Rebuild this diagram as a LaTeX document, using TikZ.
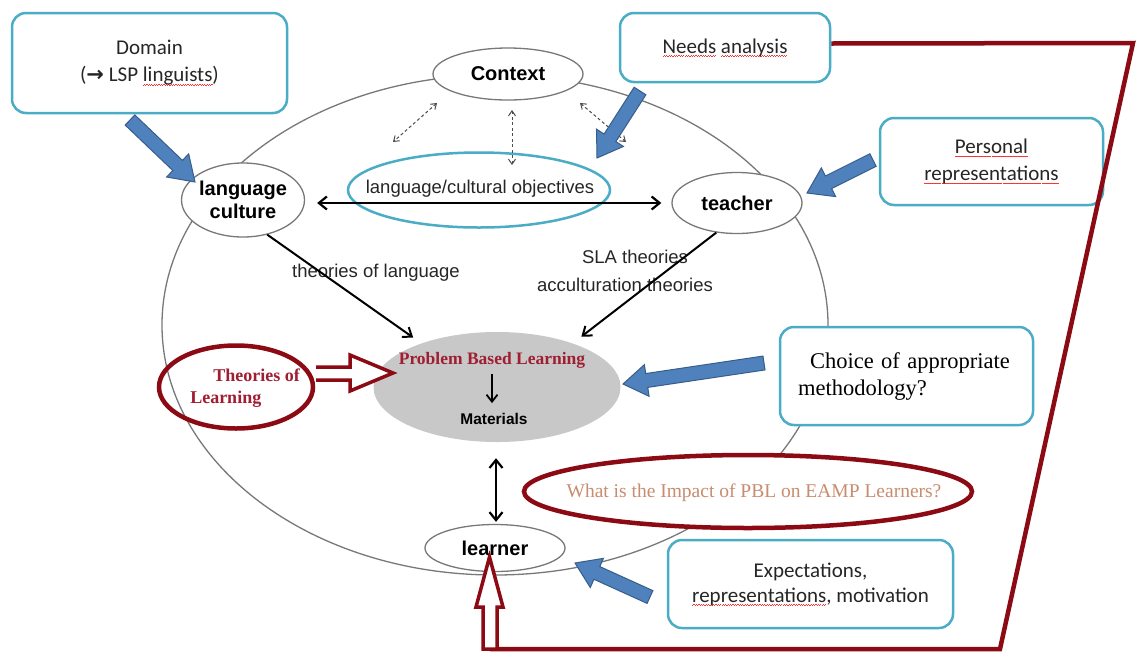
\documentclass[tikz,border=0pt]{standalone}
\usepackage{fontspec}
\usetikzlibrary{shapes.geometric,arrows.meta,calc}
\newfontfamily\arialf{Liberation Sans}
\newfontfamily\calib{Carlito}
\newfontfamily\tnr{Liberation Serif}
\newfontfamily\dejavu{DejaVu Sans}
\definecolor{cyanb}{RGB}{75,172,198}
\definecolor{blueF}{RGB}{79,129,189}
\definecolor{blueD}{RGB}{56,93,138}
\definecolor{dred}{RGB}{140,10,20}
\definecolor{pblred}{RGB}{160,30,50}
\definecolor{tancol}{RGB}{200,140,110}
\definecolor{grayl}{RGB}{120,120,120}
\definecolor{pblgray}{RGB}{200,200,200}
\newcommand\spell[1]{\setbox0\hbox{#1}\rlap{\raisebox{-3.5pt}{\textcolor{red!80}{\hbox to \wd0{\xleaders\hbox{\rule{1.2pt}{0.6pt}\rule[0.7pt]{1.2pt}{0.6pt}}\hfill}}}}\box0\relax}
\newcommand\blockarrow[2]{%
  \path[blockarr] ($(#1)!7pt!90:(#2)$)
    -- ($($(#2)!24pt!(#1)$)!7pt!90:(#2)$)
    -- ($($(#2)!24pt!(#1)$)!16pt!90:(#2)$)
    -- (#2)
    -- ($($(#2)!24pt!(#1)$)!16pt!-90:(#2)$)
    -- ($($(#2)!24pt!(#1)$)!7pt!-90:(#2)$)
    -- ($(#1)!7pt!-90:(#2)$) -- cycle;}
\begin{document}
\begin{tikzpicture}[x=1pt,y=-1pt,
  oval/.style={ellipse, draw=grayl, line width=1.3pt, fill=white, inner sep=0pt},
  nodetxt/.style={font=\arialf\bfseries\fontsize{20}{23}\selectfont, align=center},
  plaintxt/.style={font=\arialf\fontsize{18.5}{22}\selectfont, text=black!85, inner sep=0pt},
  cbox/.style={draw=cyanb, line width=2.5pt, rounded corners=14pt, fill=white, inner sep=0pt,
    align=center, font=\calib\fontsize{21}{27}\selectfont, text=black!85},
  redoval/.style={ellipse, draw=dred, line width=4.5pt, inner sep=0pt},
  blk/.style={draw=black, line width=2.2pt,
    {Straight Barb[length=8pt,width=13pt]}-{Straight Barb[length=8pt,width=13pt]}},
  thk/.style={draw=black, line width=2pt, -{Straight Barb[length=8pt,width=12pt]}},
  dsh/.style={draw=black!70, line width=1pt, dash pattern=on 3pt off 2.5pt,
    {Straight Barb[length=5pt,width=7pt]}-{Straight Barb[length=5pt,width=7pt]}},
  hol/.style={draw=dred, line width=3.5pt, fill=white, line join=miter},
  blockarr/.style={fill=blueF, draw=blueD, line width=1pt, line join=miter}]
\useasboundingbox (0,0) rectangle (1138,654);
\fill[white] (0,0) rectangle (1138,654);

% big ellipse
\draw[draw=grayl, line width=1.3pt] (495,325) ellipse [x radius=333pt, y radius=250pt];

% main nodes
\node[oval, nodetxt, minimum width=150pt, minimum height=52pt] (ctx) at (508,74) {Context};
\node[oval, nodetxt, inner xsep=-4pt, minimum width=123pt, minimum height=74pt] (lc) at (243,200) {language\\culture};
\node[oval, nodetxt, minimum width=130pt, minimum height=61pt] (tch) at (737,203) {teacher};
\node[ellipse, draw=cyanb, line width=2.5pt, minimum width=262pt, minimum height=75pt, inner sep=0pt] (obj) at (479,190) {};
\node[plaintxt, font=\arialf\fontsize{18.5}{22}\selectfont] (objt) at (480,189) {language/cultural objectives};

% PBL
\node[ellipse, fill=pblgray, minimum width=247pt, minimum height=110pt, inner sep=0pt] (pbl) at (497,387) {};
\node[font=\tnr\bfseries\fontsize{17.5}{20}\selectfont, text=pblred, inner sep=0pt] (pblt) at (492,360) {Problem Based Learning};
\node[font=\arialf\bfseries\fontsize{15.5}{18}\selectfont, inner sep=0pt] (mat) at (494,419) {Materials};
\draw[line width=1.8pt, -{Straight Barb[length=7pt,width=11pt]}] ($(pblt.south)+(0,6)$) -- ($(mat.north)+(-2,-10)$);

% learner
\node[oval, nodetxt, minimum width=140pt, minimum height=47pt] (lrn) at (495,548) {learner};

% theory labels
\node[plaintxt] (tl) at (376,273) {theories of language};
\node[plaintxt] (sla) at (635,257) {SLA theories};
\node[plaintxt] (acc) at (625,285) {acculturation theories};

% connectors
\draw[blk] ($(lc.east)+(12,3)$) -- ($(tch.west)+(-10,0)$);
\draw[thk, shorten >=10pt] (lc.-55) -- (pbl.150);
\draw[thk, shorten >=11pt] (tch.235) -- (pbl.30);
\draw[blk] ($(pbl.south)+(-1,16)$) -- ($(lrn.north)+(1,-2)$);

\coordinate (d1a) at (437,103); \coordinate (d1b) at (393,142);
\coordinate (d2a) at (512,110); \coordinate (d2b) at (512,165);
\coordinate (d3a) at (580,103); \coordinate (d3b) at (626,142);
\draw[dsh] (d1a) -- (d1b);
\draw[dsh] (d2a) -- (d2b);
\draw[dsh] (d3a) -- (d3b);

% Theories of Learning
\node[redoval, minimum width=154pt, minimum height=83pt] (tol) at (236,387) {};
\node[font=\tnr\bfseries\fontsize{18}{22}\selectfont, text=pblred, align=left, inner sep=0pt] (tolt) at (245,388) {\hspace*{23pt}Theories of\\Learning};
\draw[hol] (316,367) -- (350,367) -- (350,355) -- (393,373) -- (350,391) -- (350,380) -- (316,380);

% Impact question
\node[redoval, fill=white, minimum width=448pt, minimum height=73pt] (imp) at (748,491.5) {};
\node[font=\tnr\fontsize{19.5}{22}\selectfont, text=tancol, inner sep=0pt] (impt) at (754,493) {What is the Impact of PBL on EAMP Learners?};

% boxes
\node[cbox, minimum width=275pt, minimum height=100pt] (dom) at (149.5,63) {Domain\\({\dejavu\bfseries →} LSP \spell{linguists})};
\node[cbox, minimum width=210pt, minimum height=69pt] (nd) at (725,47.5) {\spell{Needs} \spell{analysis}};
\node[cbox, minimum width=223pt, minimum height=87pt] (pr) at (991.5,161.5) {\spell{Personal}\\\spell{representations}};
\node[cbox, minimum width=253pt, minimum height=98pt, align=left, text width=217pt,
  font=\tnr\fontsize{22.5}{27}\selectfont, text=black] (ch) at (906.5,376) {\hspace*{12pt}Choice of appropriate\\methodology?};
\node[cbox, minimum width=285pt, minimum height=88pt, font=\calib\fontsize{21}{25}\selectfont] (ex) at (810.5,584) {Expectations,\\\spell{representations}, motivation};

% red frame
\draw[dred, line width=4.5pt, line join=miter] ($(nd.east)+(0,-4)$) -- (1133,43) -- (1000,649) -- (490,649);
\draw[hol] (483,649) -- (483,607) -- (476,607) -- (489.5,557) -- (503,607) -- (497,607) -- (497,649) -- cycle;

% blue block arrows
\coordinate (a1s) at (130,120); \coordinate (a1e) at (195,182);
\coordinate (a2s) at (640,91);  \coordinate (a2e) at (597,158);
\coordinate (a3s) at (873,160); \coordinate (a3e) at (807,193);
\coordinate (a4s) at (764,363); \coordinate (a4e) at (623,384);
\coordinate (a5s) at (650,597); \coordinate (a5e) at (575,563);
\blockarrow{a1s}{a1e}
\blockarrow{a2s}{a2e}
\blockarrow{a3s}{a3e}
\blockarrow{a4s}{a4e}
\blockarrow{a5s}{a5e}
\end{tikzpicture}
\end{document}
